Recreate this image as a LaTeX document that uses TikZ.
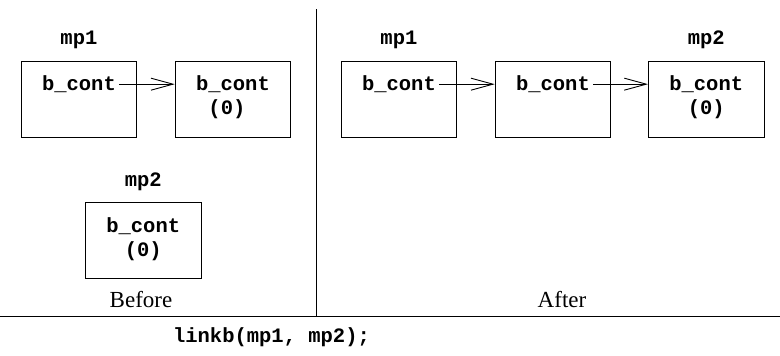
\documentclass[tikz,border=0pt]{standalone}
\usepackage{fontspec}
\setmainfont{Liberation Serif}
\newfontfamily\codefont{Liberation Mono}
\usetikzlibrary{arrows.meta}

\begin{document}
\begin{tikzpicture}[x=1pt,y=-1pt,
  line width=0.9pt,
  box/.style={draw, rectangle, inner sep=0pt, minimum width=115.6pt,
              minimum height=76.3pt, anchor=north west},
  code/.style={font=\codefont\bfseries\fontsize{20.5}{24}\selectfont,
               inner sep=0pt, anchor=base},
  caption/.style={font=\fontsize{23}{27}\selectfont, inner sep=0pt, anchor=base},
  link/.style={-{Straight Barb[length=22pt,width=12pt,line width=0.9pt]}}]
\useasboundingbox (0,0) rectangle (780,356);

% ---- Before ----
\node[box] (b1) at (20.7,60.7) {};
\node[box] (b2) at (174.7,60.7) {};
\node[box] (b3) at (85,201.7) {};

\node[code] (l1) at ([yshift=15.7pt]b1.north) {mp1};
\node[code] (t1) at ([yshift=-29.3pt]b1.north) {b\_cont};
\node[code] (t2) at ([yshift=-29.3pt]b2.north) {b\_cont};
\node[code] (z2) at ([xshift=-6pt,yshift=-54pt]b2.north) {(0)};

\node[code] (l3) at ([yshift=15.7pt]b3.north) {mp2};
\node[code] (t3) at ([yshift=-30.3pt]b3.north) {b\_cont};
\node[code] (z3) at ([yshift=-54.3pt]b3.north) {(0)};

\draw[link] ([xshift=3pt,yshift=-0.5pt]t1.east) -- ([yshift=-0.5pt]t1.east -| b2.west);

\node[caption] (before) at (141,307) {Before};

% ---- After ----
\node[box] (a1) at (340.7,60.7) {};
\node[box] (a2) at (494.7,60.7) {};
\node[box] (a3) at (648,60.7) {};

\node[code] (m1) at ([yshift=15.7pt]a1.north) {mp1};
\node[code] (m3) at ([yshift=15.7pt]a3.north) {mp2};
\node[code] (u1) at ([yshift=-29.3pt]a1.north) {b\_cont};
\node[code] (u2) at ([yshift=-29.3pt]a2.north) {b\_cont};
\node[code] (u3) at ([yshift=-29.3pt]a3.north) {b\_cont};
\node[code] (y3) at ([yshift=-54pt]a3.north) {(0)};

\draw[link] ([xshift=3pt,yshift=-0.5pt]u1.east) -- ([yshift=-0.5pt]u1.east -| a2.west);
\draw[link] ([xshift=3pt,yshift=-0.5pt]u2.east) -- ([yshift=-0.5pt]u2.east -| a3.west);

\node[caption] (after) at (562,307) {After};

% ---- frame lines and call ----
\coordinate (vtop) at (316,9.3);
\coordinate (vbot) at (316,316.7);
\coordinate (hl) at (0,316.7);
\coordinate (hr) at (780,316.7);
\draw (vtop) -- (vbot);
\draw (hl) -- (hr);

\node[code] (call) at (271.5,342.5) {linkb(mp1, mp2);};
\end{tikzpicture}
\end{document}
